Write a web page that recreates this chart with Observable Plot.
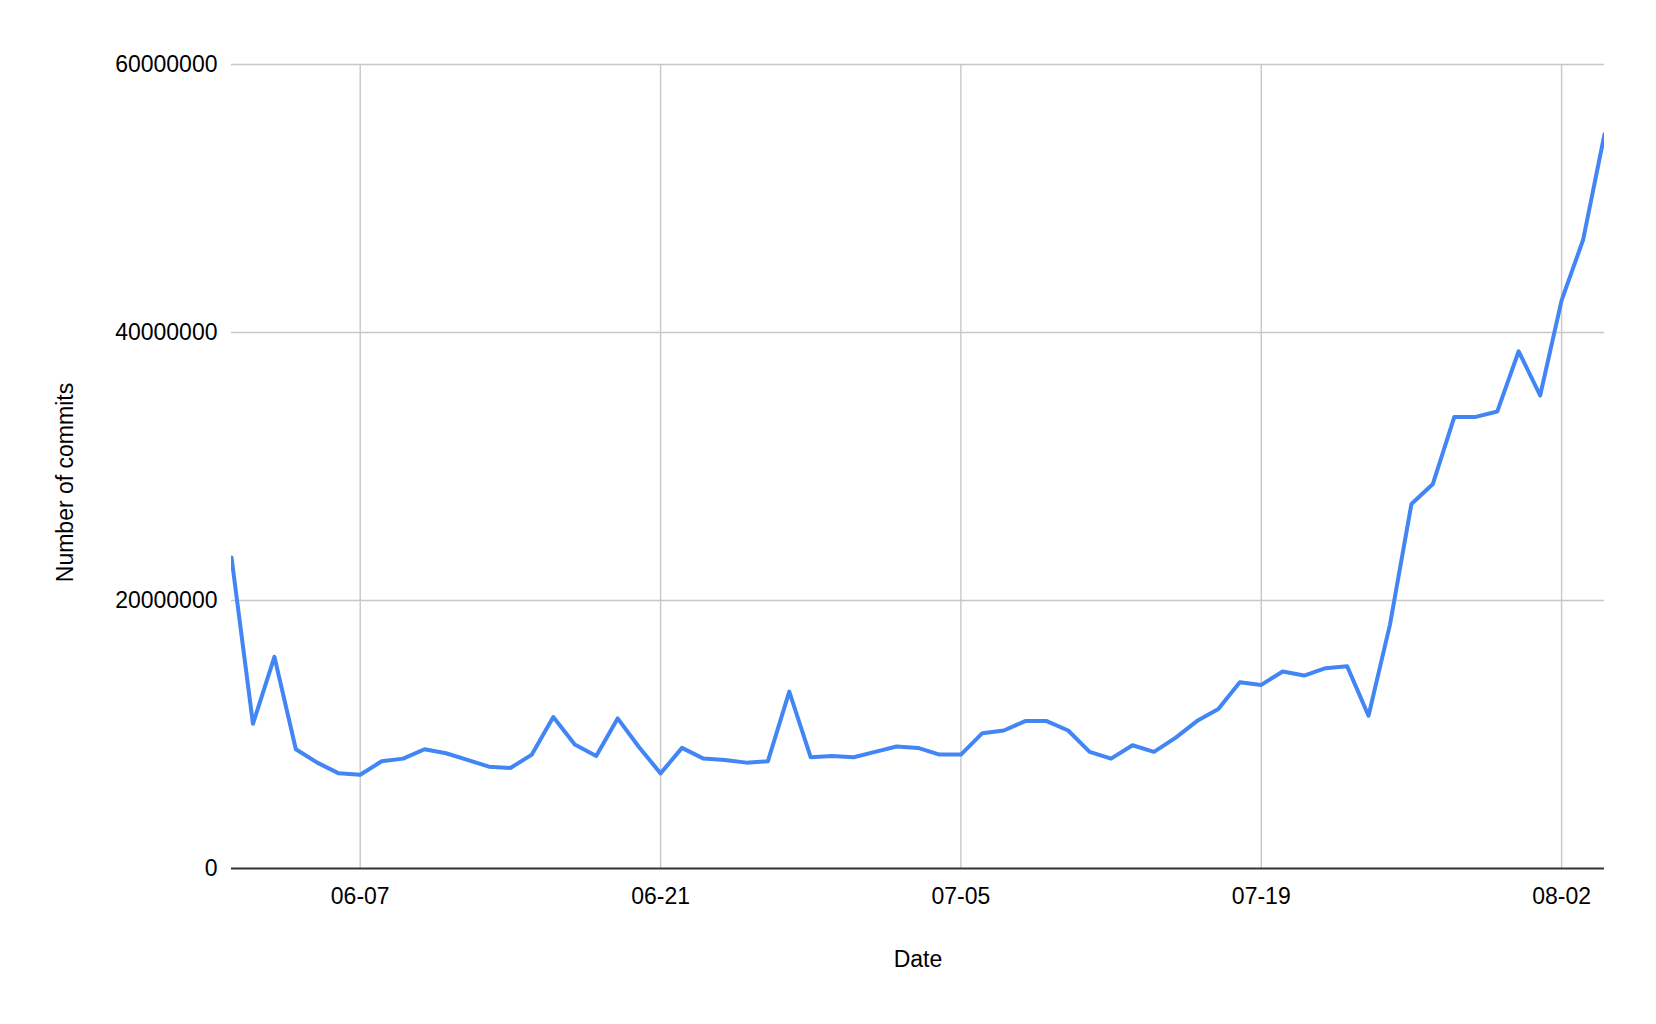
<!DOCTYPE html>
<html>
<head>
<meta charset="utf-8">
<script src="https://cdn.jsdelivr.net/npm/d3@7"></script>
<script src="https://cdn.jsdelivr.net/npm/@observablehq/plot@0.6"></script>
<style>
  html, body { margin: 0; padding: 0; background: #fff; }
  #chart { width: 1656px; height: 1024px; }
</style>
</head>
<body>
<div id="chart"></div>
<script>
const year = "2023";
const days = [
  "06-01","06-02","06-03","06-04","06-05","06-06","06-07","06-08","06-09","06-10",
  "06-11","06-12","06-13","06-14","06-15","06-16","06-17","06-18","06-19","06-20",
  "06-21","06-22","06-23","06-24","06-25","06-26","06-27","06-28","06-29","06-30",
  "07-01","07-02","07-03","07-04","07-05","07-06","07-07","07-08","07-09","07-10",
  "07-11","07-12","07-13","07-14","07-15","07-16","07-17","07-18","07-19","07-20",
  "07-21","07-22","07-23","07-24","07-25","07-26","07-27","07-28","07-29","07-30",
  "07-31","08-01","08-02","08-03","08-04"
];
const commits = [
  23200000, 10800000, 15800000, 8900000, 7900000, 7100000, 7000000, 8000000, 8200000, 8900000,
  8600000, 8100000, 7600000, 7500000, 8500000, 11300000, 9250000, 8400000, 11200000, 9050000,
  7100000, 9000000, 8200000, 8100000, 7900000, 8000000, 13200000, 8300000, 8400000, 8300000,
  8700000, 9100000, 9000000, 8500000, 8500000, 10100000, 10300000, 11000000, 11000000, 10300000,
  8700000, 8200000, 9200000, 8700000, 9750000, 11000000, 11900000, 13900000, 13700000, 14700000,
  14400000, 14950000, 15100000, 11400000, 18200000, 27200000, 28700000, 33700000, 33700000, 34100000,
  38600000, 35300000, 42400000, 46900000, 54800000
];
const xTickLabels = ["06-07", "06-21", "07-05", "07-19", "08-02"];
const yTicks = [0, 20000000, 40000000, 60000000];
const xTitle = "Date";
const yTitle = "Number of commits";

const parse = d3.utcParse("%Y-%m-%d");
const data = days.map((d, i) => ({date: parse(`${year}-${d}`), value: commits[i]}));
const xTicks = xTickLabels.map(d => parse(`${year}-${d}`));

const chart = Plot.plot({
  width: 1656,
  height: 1024,
  marginLeft: 231,
  marginRight: 52,
  marginTop: 64,
  marginBottom: 156,
  style: {fontFamily: "'Liberation Sans', Arial, sans-serif", fontSize: "23px", color: "#000", background: "#fff"},
  x: {
    type: "utc",
    domain: [data[0].date, data[data.length - 1].date],
    ticks: xTicks,
    tickFormat: d3.utcFormat("%m-%d"),
    tickSize: 0,
    tickPadding: 19,
    label: null
  },
  y: {
    domain: [0, 60000000],
    ticks: yTicks,
    tickFormat: d => String(d),
    tickSize: 0,
    tickPadding: 14,
    label: null
  },
  marks: [
    Plot.gridX(xTicks, {stroke: "#c8c8c8", strokeOpacity: 1, strokeWidth: 1.4}),
    Plot.gridY(yTicks.slice(1), {stroke: "#c8c8c8", strokeOpacity: 1, strokeWidth: 1.4}),
    Plot.ruleY([0], {stroke: "#333", strokeWidth: 2}),
    Plot.line(data, {x: "date", y: "value", stroke: "#4285F4", strokeWidth: 4, clip: true}),
    Plot.text([xTitle], {frameAnchor: "bottom", dy: 91, lineAnchor: "middle", textAnchor: "middle", fill: "#000", fontSize: 23}),
    Plot.text([yTitle], {frameAnchor: "left", dx: -166, dy: 16, rotate: -90, lineAnchor: "middle", textAnchor: "middle", fill: "#000", fontSize: 23})
  ]
});
document.getElementById("chart").appendChild(chart);
</script>
</body>
</html>
